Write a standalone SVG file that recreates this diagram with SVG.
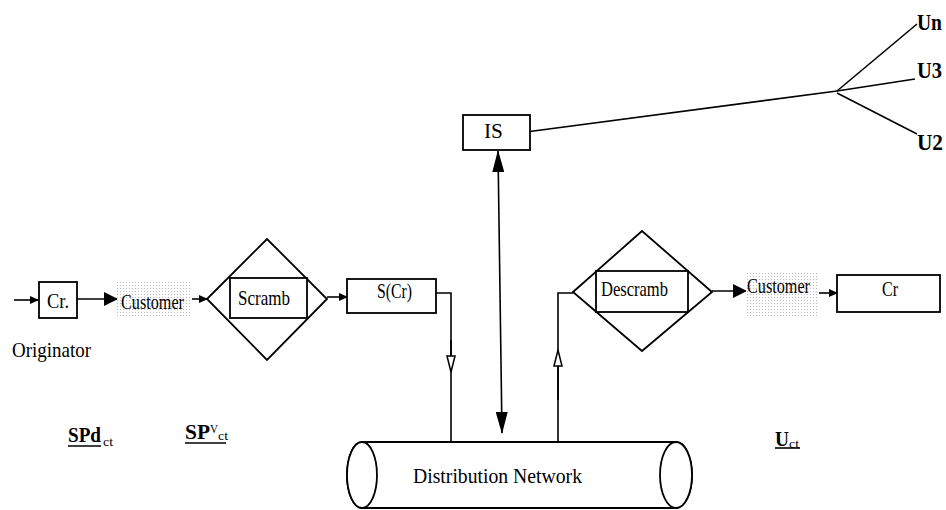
<svg xmlns="http://www.w3.org/2000/svg" width="946" height="510" viewBox="0 0 946 510">
<defs>
<style>
.ln{fill:none;stroke:#000;stroke-width:1.6}
.bx{fill:#fff;stroke:#000;stroke-width:1.8}
.t{font-family:"Liberation Serif",serif;font-size:21px;fill:#000}
.tb{font-family:"Liberation Serif",serif;font-size:21px;font-weight:bold;fill:#000}
.u{font-family:"Liberation Serif",serif;font-size:24px;font-weight:bold;fill:#000}
.s{font-family:"Liberation Serif",serif;font-size:13px;fill:#000}
.dot{fill:url(#dots)}
</style>
<pattern id="dots" width="3" height="3" patternUnits="userSpaceOnUse">
<rect width="3" height="3" fill="#fff"/>
<rect width="1" height="1" fill="#bbb"/>
</pattern>
<marker id="big" markerWidth="14" markerHeight="14" refX="13" refY="7" orient="auto" markerUnits="userSpaceOnUse">
<path d="M0,0 L14,7 L0,14 Z" fill="#000"/>
</marker>
<marker id="sm" markerWidth="9" markerHeight="8" refX="8" refY="4" orient="auto" markerUnits="userSpaceOnUse">
<path d="M0,0 L9,4 L0,8 Z" fill="#000"/>
</marker>
<marker id="tall" markerWidth="22" markerHeight="12" refX="21" refY="6" orient="auto-start-reverse" markerUnits="userSpaceOnUse">
<path d="M0,0 L22,6 L0,12 Z" fill="#000"/>
</marker>
<marker id="open" markerWidth="18" markerHeight="10" refX="17" refY="5" orient="auto" markerUnits="userSpaceOnUse">
<path d="M1,1 L17,5 L1,9 Z" fill="#fff" stroke="#000" stroke-width="1.5"/>
</marker>
</defs>

<g id="connectors">
<line class="ln" x1="14" y1="300" x2="38" y2="300" marker-end="url(#sm)"/>
<line class="ln" x1="77" y1="299" x2="117" y2="299" marker-end="url(#big)"/>
<line class="ln" x1="192" y1="299" x2="207" y2="299" marker-end="url(#sm)"/>
<line class="ln" x1="327" y1="297" x2="347" y2="297" marker-end="url(#sm)"/>
<polyline class="ln" points="436,293 451,293 451,442"/>
<line class="ln" x1="451" y1="340" x2="451" y2="372" marker-end="url(#open)"/>
<polyline class="ln" points="558,442 558,293 573,293"/>
<line class="ln" x1="558" y1="400" x2="558" y2="350" marker-end="url(#open)"/>
<line class="ln" x1="498" y1="151" x2="502" y2="433" marker-start="url(#tall)" marker-end="url(#tall)"/>
<line class="ln" x1="712" y1="291" x2="746" y2="291" marker-end="url(#big)"/>
<line class="ln" x1="819" y1="293" x2="837" y2="293" marker-end="url(#sm)"/>
<line class="ln" x1="526" y1="132" x2="837" y2="91"/>
<line class="ln" x1="837" y1="91" x2="917" y2="24"/>
<line class="ln" x1="837" y1="91" x2="915" y2="79"/>
<line class="ln" x1="837" y1="93" x2="917" y2="134"/>
</g>

<g id="originator-box">
<rect class="bx" x="39" y="282" width="38" height="36"/>
<text class="t" x="47" y="308" textLength="22" lengthAdjust="spacingAndGlyphs">Cr.</text>
</g>
<g id="originator-label">
<text class="t" x="12" y="357" textLength="79" lengthAdjust="spacingAndGlyphs">Originator</text>
</g>

<g id="customer1">
<rect class="dot" x="117" y="281" width="73" height="37"/>
<text class="t" x="121" y="309" textLength="63" lengthAdjust="spacingAndGlyphs">Customer</text>
</g>

<g id="scramb">
<polygon class="bx" points="207,299 267,239 327,299 267,360"/>
<rect class="bx" x="230" y="278" width="77" height="40"/>
<text class="t" x="238" y="305" textLength="52" lengthAdjust="spacingAndGlyphs">Scramb</text>
</g>

<g id="scr">
<rect class="bx" x="347" y="279" width="89" height="34"/>
<text class="t" x="377" y="298" textLength="35" lengthAdjust="spacingAndGlyphs">S(Cr)</text>
</g>

<g id="is">
<rect class="bx" x="463" y="115" width="67" height="35"/>
<text class="t" x="484" y="138" textLength="19" lengthAdjust="spacingAndGlyphs">IS</text>
</g>

<g id="users">
<text class="u" x="917" y="30" textLength="25" lengthAdjust="spacingAndGlyphs">Un</text>
<text class="u" x="917" y="78" textLength="25" lengthAdjust="spacingAndGlyphs">U3</text>
<text class="u" x="917" y="150" textLength="26" lengthAdjust="spacingAndGlyphs">U2</text>
</g>

<g id="descramb">
<polygon class="bx" points="573,292 642,231 712,292 642,351"/>
<rect class="bx" x="596" y="271" width="92" height="41"/>
<text class="t" x="601" y="296" textLength="67" lengthAdjust="spacingAndGlyphs">Descramb</text>
</g>

<g id="customer2">
<rect class="dot" x="746" y="271" width="71" height="46"/>
<text class="t" x="747" y="293" textLength="63" lengthAdjust="spacingAndGlyphs">Customer</text>
</g>

<g id="cr-out">
<rect class="bx" x="837" y="275" width="103" height="37"/>
<text class="t" x="882" y="296" textLength="16" lengthAdjust="spacingAndGlyphs">Cr</text>
</g>

<g id="network">
<path class="bx" d="M362,442 L676,442 A16,33 0 0 1 676,508 L362,508 A15,33 0 0 1 362,442 Z"/>
<ellipse class="bx" cx="362" cy="475" rx="15" ry="33"/>
<ellipse class="bx" cx="676" cy="475" rx="16" ry="33" fill="none"/>
<text class="t" x="413" y="483" textLength="169" lengthAdjust="spacingAndGlyphs">Distribution Network</text>
</g>

<g id="spd">
<text class="tb" x="68" y="442" textLength="33" lengthAdjust="spacingAndGlyphs">SPd</text>
<text class="s" x="103" y="446" textLength="10" lengthAdjust="spacingAndGlyphs">ct</text>
<line class="ln" x1="68" y1="446" x2="101" y2="446"/>
</g>
<g id="spv">
<text class="tb" x="185" y="439" textLength="25" lengthAdjust="spacingAndGlyphs">SP</text>
<text class="s" x="210" y="433" textLength="8" lengthAdjust="spacingAndGlyphs">V</text>
<text class="s" x="218" y="440" textLength="10" lengthAdjust="spacingAndGlyphs">ct</text>
<line class="ln" x1="185" y1="443" x2="226" y2="443"/>
</g>
<g id="uct">
<text class="tb" x="775" y="446" textLength="14" lengthAdjust="spacingAndGlyphs">U</text>
<text class="s" x="789" y="448" textLength="10" lengthAdjust="spacingAndGlyphs">ct</text>
<line class="ln" x1="775" y1="448" x2="800" y2="448"/>
</g>
</svg>
